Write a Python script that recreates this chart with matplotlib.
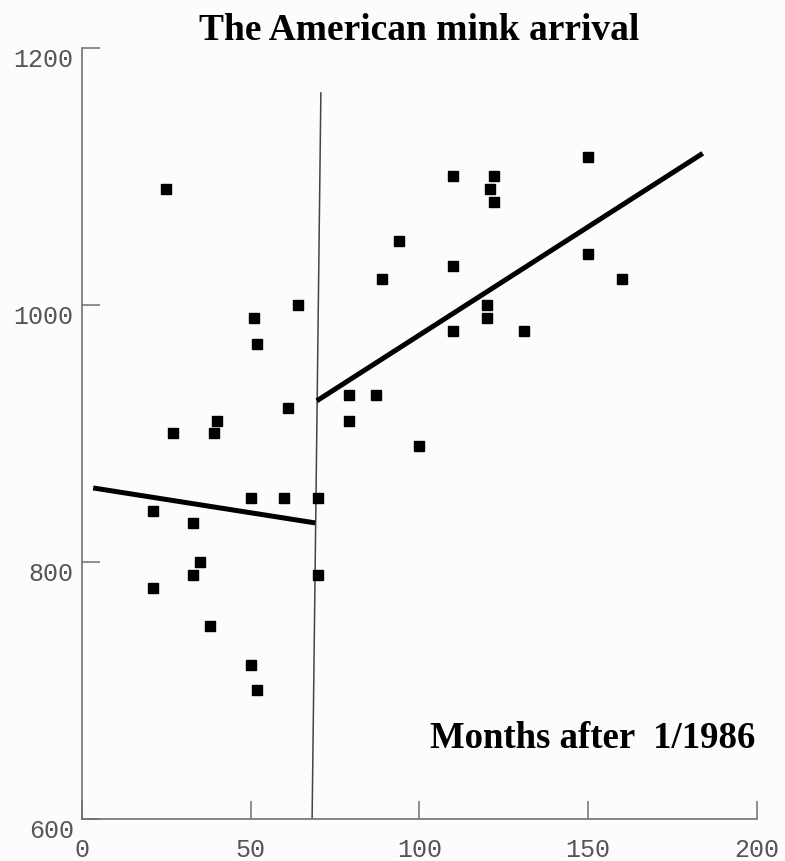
import numpy as np
import matplotlib.pyplot as plt

# monthly observations (months after 1/1986)
months = [25, 21, 21, 27, 33, 33, 35, 38, 39, 40, 50, 50, 51, 52, 52, 60, 61, 64,
          70, 70, 79, 79, 87, 89, 94, 100, 110, 110, 110, 120, 120, 121, 122, 122,
          131, 150, 150, 160]
values = [1090, 840, 780, 900, 830, 790, 800, 750, 900, 910, 720, 850, 990, 700,
          970, 850, 920, 1000, 850, 790, 930, 910, 930, 1020, 1050, 890, 1100, 1030,
          980, 1000, 990, 1090, 1100, 1080, 980, 1115, 1040, 1020]

# fitted trend before and after the arrival
fit_before_x = [3.3, 69.1]
fit_before_y = [857.6, 830.4]
fit_after_x = [69.6, 184.0]
fit_after_y = [925.4, 1118.0]

# arrival marker
arrival_x = [68.2, 70.8]
arrival_y = [600, 1165]

xticks = [0, 50, 100, 150, 200]
yticks = [600, 800, 1000, 1200]

bg = '#fcfcfc'
fig = plt.figure(figsize=(7.85, 8.61), dpi=100, facecolor=bg)
ax = fig.add_axes([0.1045, 0.0488, 0.8595, 0.8955], facecolor=bg)

ax.plot(arrival_x, arrival_y, color='#444444', lw=1.1)
ax.plot(fit_before_x, fit_before_y, color='black', lw=3.6, solid_capstyle='butt')
ax.plot(fit_after_x, fit_after_y, color='black', lw=3.6, solid_capstyle='butt')
ax.plot(months, values, 's', color='black', ms=6.5, ls='none')

ax.set_xlim(0, 200)
ax.set_ylim(600, 1200)
ax.set_xticks(xticks)
ax.set_yticks(yticks)

for side in ['top', 'right']:
    ax.spines[side].set_visible(False)
for side in ['left', 'bottom']:
    ax.spines[side].set_color('#707070')
    ax.spines[side].set_linewidth(1.2)

ax.tick_params(axis='both', direction='in', length=13, width=1.1, color='#707070',
               labelcolor='#555555', labelsize=18)
ax.tick_params(axis='x', pad=14)
ax.tick_params(axis='y', pad=6)
for lab in ax.get_xticklabels() + ax.get_yticklabels():
    lab.set_fontfamily('Liberation Mono')
for lab in ax.get_yticklabels():
    lab.set_va('top')

ax.set_title('The American mink arrival', fontfamily='Liberation Serif',
             fontweight='bold', fontsize=27, pad=6)
ax.text(199.5, 655, 'Months after  1/1986', fontfamily='Liberation Serif',
        fontweight='bold', fontsize=26.5, ha='right', va='baseline')

fig.savefig('out.png', dpi=100, facecolor=bg)
